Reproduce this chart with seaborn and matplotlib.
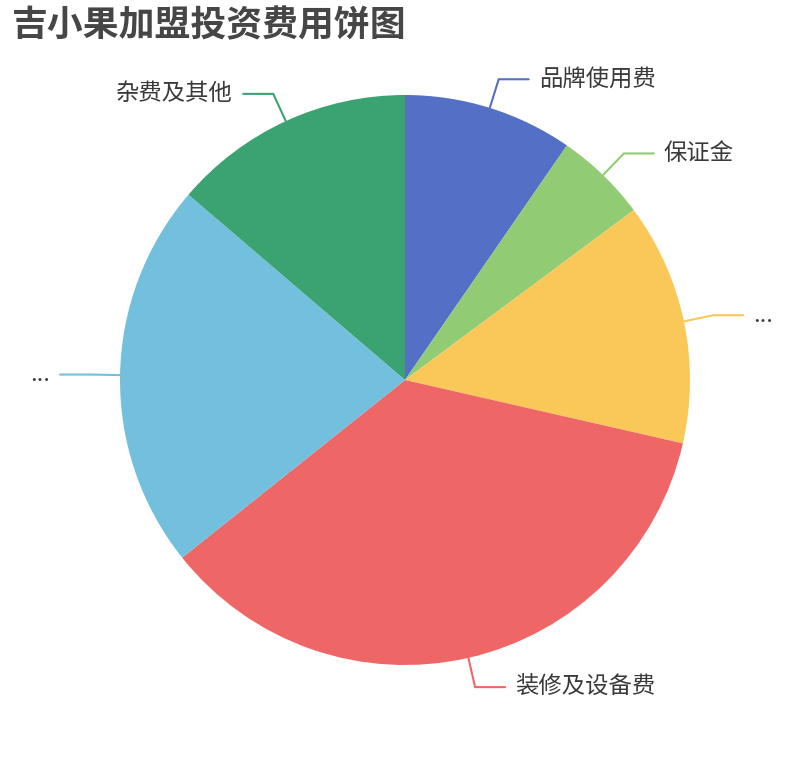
import numpy as np
import matplotlib.pyplot as plt
import seaborn as sns

# --- data ---
labels = ['品牌使用费', '保证金', '...', '装修及设备费', '...', '杂费及其他']
values = [3.5, 1.9, 5.0, 13.0, 8.0, 5.0]
colors = ['#5470c6', '#91cc75', '#fac858', '#ee6666', '#73c0de', '#3ba272']
title = '吉小果加盟投资费用饼图'

sns.set_theme(style='white')
plt.rcParams['font.family'] = ['Noto Sans CJK SC', 'DejaVu Sans']

W, H = 810, 760
fig = plt.figure(figsize=(W / 100, H / 100), dpi=100)
ax = fig.add_axes([0, 0, 1, 1])
ax.set_xlim(0, W)
ax.set_ylim(0, H)
ax.set_aspect('equal')
ax.axis('off')

cx, cy, r = 405, 380, 285
wedges, _ = ax.pie(values, colors=sns.color_palette(colors), startangle=90,
                   counterclock=False, center=(cx, cy), radius=r,
                   wedgeprops=dict(linewidth=0))
ax.set_xlim(0, W)
ax.set_ylim(0, H)

# label lines, echarts-like
len1, len2, gap = 30, 30, 10
for w, lab, col in zip(wedges, labels, colors):
    mid = np.deg2rad((w.theta1 + w.theta2) / 2)
    c, s = np.cos(mid), np.sin(mid)
    p1 = (cx + r * c, cy + r * s)
    p2 = (cx + (r + len1) * c, cy + (r + len1) * s)
    side = 1 if c >= 0 else -1
    p3 = (p2[0] + side * len2, p2[1])
    ax.plot([p1[0], p2[0], p3[0]], [p1[1], p2[1], p3[1]], color=col, lw=1.5,
            solid_joinstyle='miter')
    ax.text(p3[0] + side * gap, p3[1], lab, ha='left' if side > 0 else 'right',
            va='center', fontsize=16.8, color='#3a3a3a')

fig.text(12 / W, 1 - 26 / H, title, fontsize=25.8, fontweight='bold',
         color='#464646', ha='left', va='center')

plt.savefig('out.png', dpi=100)
